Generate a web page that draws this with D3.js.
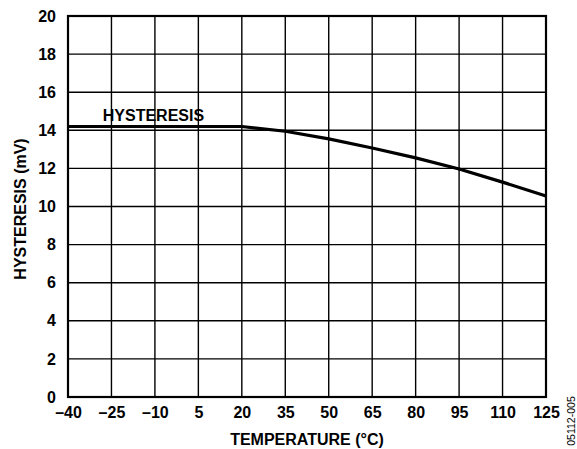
<!DOCTYPE html>
<html>
<head>
<meta charset="utf-8">
<script src="https://cdn.jsdelivr.net/npm/d3@7"></script>
<style>
  body { margin: 0; background: #fff; }
  text { font-family: Arial, "Liberation Sans", sans-serif; }
</style>
</head>
<body>
<script>
const temperature = [-40, -25, -10, 5, 20, 35, 50, 65, 80, 95, 110, 125];
const hysteresis = [14.2, 14.2, 14.2, 14.2, 14.2, 13.95, 13.55, 13.07, 12.55, 11.97, 11.28, 10.55];
const xTicks = [-40, -25, -10, 5, 20, 35, 50, 65, 80, 95, 110, 125];
const yTicks = [0, 2, 4, 6, 8, 10, 12, 14, 16, 18, 20];

const W = 577, H = 449;
const margin = {top: 16, right: 31, bottom: 52, left: 68},
      width = W - margin.left - margin.right,
      height = H - margin.top - margin.bottom;

const svg = d3.select("body").append("svg")
    .attr("width", W)
    .attr("height", H);

const g = svg.append("g")
    .attr("transform", `translate(${margin.left},${margin.top})`);

const x = d3.scaleLinear().domain([-40, 125]).range([0, width]);
const y = d3.scaleLinear().domain([0, 20]).range([height, 0]);

// grid
g.append("g")
    .selectAll("line")
    .data(xTicks)
    .enter().append("line")
    .attr("x1", d => x(d)).attr("x2", d => x(d))
    .attr("y1", 0).attr("y2", height)
    .attr("stroke", "#000").attr("stroke-width", 1.4);

g.append("g")
    .selectAll("line")
    .data(yTicks)
    .enter().append("line")
    .attr("x1", 0).attr("x2", width)
    .attr("y1", d => y(d)).attr("y2", d => y(d))
    .attr("stroke", "#000").attr("stroke-width", 1.4);

// tick labels from d3 axes, tick lines hidden
const fmt = d => d < 0 ? "\u2013" + Math.abs(d) : String(d);

const xAxis = g.append("g")
    .attr("transform", `translate(0,${height})`)
    .call(d3.axisBottom(x).tickValues(xTicks).tickFormat(fmt).tickSize(0).tickPadding(10));
const yAxis = g.append("g")
    .call(d3.axisLeft(y).tickValues(yTicks).tickSize(0).tickPadding(12));

[xAxis, yAxis].forEach(a => {
  a.select(".domain").remove();
  a.selectAll("text")
    .style("font-family", "Arial, 'Liberation Sans', sans-serif")
    .style("font-size", "16px")
    .style("font-weight", "bold")
    .attr("fill", "#000");
});

// frame
g.append("rect")
    .attr("width", width).attr("height", height)
    .attr("fill", "none").attr("stroke", "#000").attr("stroke-width", 2.2);

// series
const line = d3.line()
    .x((d, i) => x(temperature[i]))
    .y(d => y(d));

g.append("path")
    .datum(hysteresis)
    .attr("fill", "none")
    .attr("stroke", "#000")
    .attr("stroke-width", 3.2)
    .attr("d", line);

g.append("text")
    .attr("x", x(-28))
    .attr("y", y(14.2) - 5)
    .style("font-size", "16px")
    .style("font-weight", "bold")
    .text("HYSTERESIS");

// axis titles
svg.append("text")
    .attr("x", margin.left + width / 2)
    .attr("y", 445)
    .attr("text-anchor", "middle")
    .style("font-size", "16px")
    .style("font-weight", "bold")
    .text("TEMPERATURE (°C)");

svg.append("text")
    .attr("transform", `translate(26,209) rotate(-90)`)
    .attr("text-anchor", "middle")
    .style("font-size", "16px")
    .style("font-weight", "bold")
    .text("HYSTERESIS (mV)");

svg.append("text")
    .attr("transform", `translate(575,421) rotate(-90)`)
    .attr("text-anchor", "middle")
    .style("font-size", "10.5px")
    .text("05112-005");
</script>
</body>
</html>
